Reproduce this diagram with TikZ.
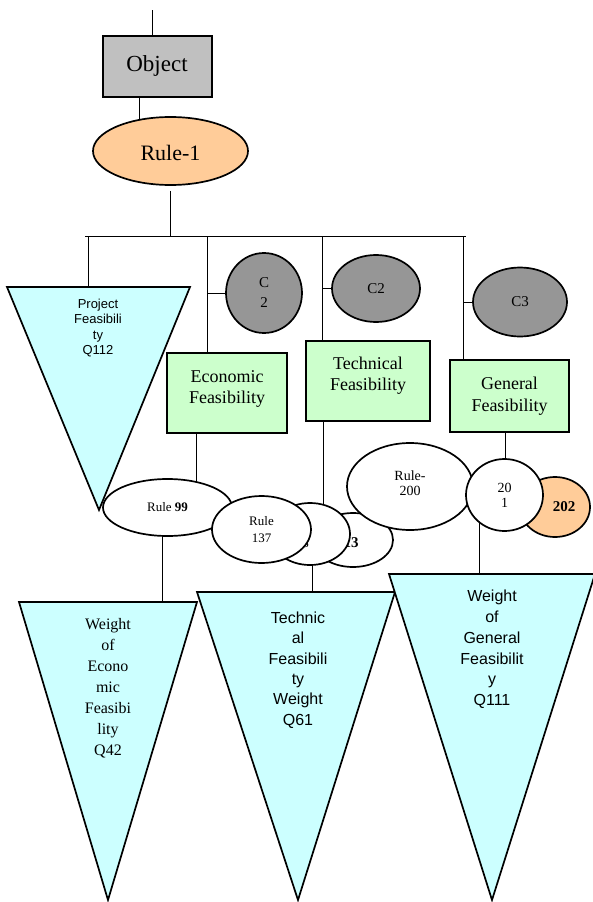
\documentclass[tikz,border=0pt]{standalone}
\usepackage{fontspec}
\setmainfont{Liberation Serif}
\newfontfamily\sansfam{Liberation Sans}
\usetikzlibrary{shapes.geometric,backgrounds}
\definecolor{boxgray}{HTML}{C0C0C0}
\definecolor{circgray}{HTML}{969696}
\definecolor{peach}{HTML}{FFCC99}
\definecolor{mint}{HTML}{CCFFCC}
\definecolor{aqua}{HTML}{CCFFFF}
\tikzset{
  oval/.style={ellipse,draw,fill=white,inner sep=0pt,align=center},
  featbox/.style={rectangle,draw,fill=mint,inner sep=0pt},
  funnel/.style={draw,fill=aqua,line join=miter},
  txt/.style={align=center,inner sep=0pt},
}
\newcommand{\fs}[2]{\fontsize{#1}{#2}\selectfont}
\begin{document}
\begin{tikzpicture}[x=1pt,y=-1pt,line width=1.7pt]
\useasboundingbox (0,0) rectangle (592,902);

% object and root rule
\node[rectangle,draw,fill=boxgray,minimum width=109pt,minimum height=61pt] (obj) at (157.5,66.5) {};
\node[txt,font=\fs{23}{27}] (objtxt) at (157,65.5) {Object};
\node[oval,fill=peach,minimum width=155pt,minimum height=68pt] (rule1) at (170.5,151) {};
\node[txt,font=\fs{22}{26}] (rule1txt) at (170.5,153) {Rule-1};

% classes
\node[oval,fill=circgray,minimum width=76pt,minimum height=80pt,font=\fs{15}{20}] (c2a) at (264,293) {C\\2};
\node[oval,fill=circgray,minimum width=88pt,minimum height=67pt,font=\fs{15}{18}] (c2b) at (376,288.5) {C2};
\node[oval,fill=circgray,minimum width=94pt,minimum height=69pt,font=\fs{15}{18}] (c3) at (520,302) {C3};

% feasibility boxes
\node[featbox,minimum width=120pt,minimum height=80pt] (econ) at (227,393) {};
\node[txt,font=\fs{18}{21.5}] (econtxt) at (227,389) {Economic\\Feasibility};
\node[featbox,minimum width=124pt,minimum height=80pt] (tech) at (368,381) {};
\node[txt,font=\fs{18}{21}] (techtxt) at (368,375.5) {Technical\\Feasibility};
\node[featbox,minimum width=119pt,minimum height=72pt] (gen) at (509.5,396) {};
\node[txt,font=\fs{18}{22}] (gentxt) at (509.5,396) {General\\Feasibility};

% project feasibility funnel
\draw[funnel] (7,287) -- (190,287) -- (99,510) -- cycle;
\coordinate (pfTop) at (88,287);
\node[txt,font=\sansfam\fs{13}{15.6}] (pftxt) at (98,328) {Project\\Feasibili\\ty\\Q112};

% rule ellipses
\node[oval,minimum width=129pt,minimum height=57pt,font=\fs{13}{16}] (rule99) at (167.5,507.5) {Rule \textbf{99}};
\node[oval,minimum width=80pt,minimum height=54pt] (ell3) at (353,540) {};
\node[txt,font=\bfseries\fs{15}{18}] (ell3txt) at (351,543) {13};
\node[oval,minimum width=80pt,minimum height=62pt] (ell2) at (310,534) {};
\node[txt,font=\fs{13}{17}] (ell2txt) at (299,535) {Rule\\138};
\node[oval,minimum width=99pt,minimum height=67pt,font=\fs{13}{17}] (rule137) at (261.5,529.5) {Rule\\137};
\node[oval,minimum width=126pt,minimum height=87pt] (rule200) at (410,486.5) {};
\node[txt,font=\fs{14}{15}] (rule200txt) at (410,483) {Rule-\\200};
\node[oval,fill=peach,minimum width=70pt,minimum height=60pt] (e202) at (555,507) {};
\node[txt,font=\bfseries\fs{15}{18}] (e202txt) at (564,507) {202};
\node[oval,minimum width=77pt,minimum height=72pt,font=\fs{14}{15}] (e201) at (504.5,495) {20\\1};

% weight funnels
\draw[funnel] (19,602) -- (197,602) -- (108,900) -- cycle;
\coordinate (ecTop) at (162,602);
\node[txt,font=\fs{16}{21}] (ectxt) at (108,688.5) {Weight\\of\\Econo\\mic\\Feasibi\\lity\\Q42};
\draw[funnel] (197,592) -- (395,592) -- (298,900) -- cycle;
\coordinate (tcTop) at (312,592);
\node[txt,font=\sansfam\fs{16}{20.4}] (tctxt) at (298,670) {Technic\\al\\Feasibili\\ty\\Weight\\Q61};
\draw[funnel] (389,574) -- (595,574) -- (492,900) -- cycle;
\coordinate (gnTop) at (479,574);
\node[txt,font=\sansfam\fs{16}{20.8}] (gntxt) at (492,649.5) {Weight\\of\\General\\Feasibilit\\y\\Q111};

% connectors
\coordinate (entry) at (152,10);
\coordinate (busL) at (85,236);
\coordinate (busR) at (466,236);
\coordinate (j1) at (207,236);
\coordinate (j2) at (322,236);
\coordinate (j3) at (463,236);
\begin{scope}[on background layer]
  \draw (entry) -- (entry |- obj.north);
  \draw ([xshift=-18.5pt]obj.south) -- ([xshift=-18.5pt]obj.south |- rule1.center);
  \draw ([yshift=-5pt]rule1.south) -- (rule1.south |- busL);
  \draw (busL) -- (busR);
  \draw (pfTop |- busL) -- (pfTop);
  \draw (j1) -- (j1 |- econ.north);
  \draw (j1 |- c2a.west) -- (c2a.center);
  \draw (j2) -- (j2 |- tech.north);
  \draw (j2 |- c2b.west) -- (c2b.center);
  \draw (j3) -- (j3 |- gen.north);
  \draw (j3 |- c3.west) -- (c3.center);
  \draw ([xshift=-31pt]econ.south) -- ([xshift=-31pt]econ.south |- rule99.center);
  \draw (rule99.center -| ecTop) -- (ecTop);
  \draw ([xshift=-45pt]tech.south) -- ([xshift=-45pt]tech.south |- ell2.center);
  \draw (ell2.center -| tcTop) -- (tcTop);
  \draw ([xshift=-4.5pt]gen.south) -- ([xshift=-4.5pt]gen.south |- e201.center);
  \draw (e201.center -| gnTop) -- (gnTop);
\end{scope}
\end{tikzpicture}
\end{document}
